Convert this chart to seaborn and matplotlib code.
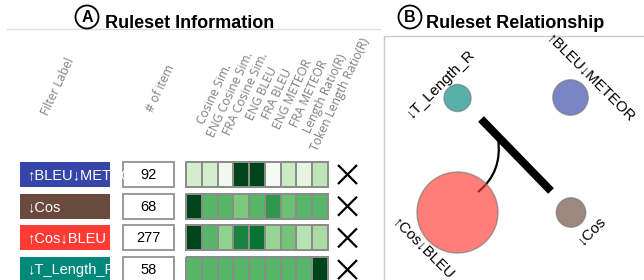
import matplotlib
matplotlib.use("Agg")
import matplotlib.pyplot as plt
from matplotlib.patches import Rectangle, Circle, PathPatch
from matplotlib.path import Path
import numpy as np
import pandas as pd
import seaborn as sns

# ---------------- data ----------------
filter_labels = ["↑BLEU↓METEOR", "↓Cos", "↑Cos↓BLEU", "↓T_Length_R"]
item_counts = [92, 68, 277, 58]
filter_colors = ["#3646A8", "#6B4A3E", "#FF3B33", "#00897B"]
metric_names = ["Cosine Sim.", "ENG Cosine Sim.", "FRA Cosine Sim.", "ENG BLEU",
                "FRA BLEU", "ENG METEOR", "FRA METEOR", "Length Ratio(R)",
                "Token Length Ratio(R)"]
metric_row1 = [0.20, 0.20, 0.05, 1.00, 1.00, 0.02, 0.24, 0.12, 0.28]
metric_row2 = [1.00, 0.57, 0.57, 0.48, 0.57, 0.70, 0.52, 0.57, 0.57]
metric_row3 = [1.00, 0.57, 0.42, 0.78, 0.85, 0.40, 0.50, 0.30, 0.35]
metric_row4 = [0.57, 0.57, 0.57, 0.57, 0.57, 0.57, 0.57, 0.57, 1.00]
metric_rows = [metric_row1, metric_row2, metric_row3, metric_row4]
header_labels = ["Filter Label", "# of item"]
panel_titles = ["Ruleset Information", "Ruleset Relationship"]

# relationship-graph layout (pixel positions of nodes)
node_x = [570.5, 571, 457.5, 457.5]
node_y = [97.5, 212.5, 212.5, 98]

# ---------------- style ----------------
sns.set_theme(style="white")
plt.rcParams["font.family"] = ["Liberation Sans", "DejaVu Sans"]

W, H = 644, 280
fig = plt.figure(figsize=(W / 100, H / 100), dpi=100)
ax = fig.add_axes([0, 0, 1, 1])
ax.set_xlim(0, W)
ax.set_ylim(H, 0)
ax.axis("off")

def px2fig(x0, y0, w, h):
    return [x0 / W, 1 - (y0 + h) / H, w / W, h / H]

# ---------------- titles ----------------
def circled_title(cx, letter, tx, text):
    ax.add_patch(Circle((cx, 17), 11.5, fill=False, lw=1.3, ec="black", zorder=5))
    ax.text(cx, 17.5, letter, ha="center", va="center", fontsize=11.5,
            fontweight="bold", color="black", zorder=6)
    ax.text(tx, 27.5, text, ha="left", va="baseline", fontsize=13,
            fontweight="bold", color="black", zorder=6)

circled_title(87, "A", 105, panel_titles[0])
circled_title(410, "B", 426, panel_titles[1])

ax.plot([7, 380], [29, 29], color="#dddddd", lw=1, zorder=1)
ax.plot([384, 384], [36, H + 5], color="#cccccc", lw=1, zorder=1)
ax.plot([384, W + 5], [36, 36], color="#cccccc", lw=1, zorder=1)

# ---------------- panel A headers ----------------
hdr_font = dict(family=["Open Sans", "DejaVu Sans"], color="#7f7f7f",
                fontsize=8.7, rotation=65, ha="center", va="center",
                rotation_mode="anchor")
ax.text(58, 87, header_labels[0], **hdr_font)
ax.text(161, 88, header_labels[1], **hdr_font)

hm_x0, hm_w = 186, 142
cell_w = hm_w / len(metric_names)
for i, name in enumerate(metric_names):
    ax.text(hm_x0 + (i + 0.5) * cell_w + 20.5, 94, name, **hdr_font)

# ---------------- panel A rows ----------------
row_top0, row_pitch, row_h = 162, 31.7, 25
for r, (lab, cnt, col, vals) in enumerate(zip(filter_labels, item_counts,
                                               filter_colors, metric_rows)):
    y0 = row_top0 + r * row_pitch
    yc = y0 + row_h / 2
    # filter label box (label clipped to the box, as in the original UI)
    box = Rectangle((20, y0), 90, row_h, facecolor=col, edgecolor="none", zorder=2)
    ax.add_patch(box)
    t = ax.text(27, yc + 0.5, lab, ha="left", va="center", color="white",
                fontsize=10.5, zorder=3)
    t.set_clip_path(box)
    # count box
    ax.add_patch(Rectangle((123, y0), 51, row_h, facecolor="white",
                           edgecolor="#999999", lw=1.4, zorder=2))
    ax.text(148.5, yc + 0.5, str(cnt), ha="center", va="center", color="black",
            fontsize=10.5, zorder=3)
    # heatmap row
    hax = fig.add_axes(px2fig(hm_x0, y0, hm_w, row_h))
    df = pd.DataFrame([vals], columns=metric_names)
    sns.heatmap(df, ax=hax, cmap="Greens", vmin=0, vmax=1, cbar=False,
                linewidths=1.1, linecolor="#8c8c8c", xticklabels=False,
                yticklabels=False, square=False)
    for coll in hax.collections:
        coll.set_clip_on(False)
    hax.add_patch(Rectangle((0, 0), len(metric_names), 1, fill=False,
                            ec="#8c8c8c", lw=1.3, clip_on=False, zorder=5))
    hax.axis("off")
    # delete mark
    xc, hs = 347.5, 9.5
    ax.plot([xc - hs, xc + hs], [yc - hs, yc + hs], color="black", lw=1.6,
            solid_capstyle="butt", zorder=3)
    ax.plot([xc - hs, xc + hs], [yc + hs, yc - hs], color="black", lw=1.6,
            solid_capstyle="butt", zorder=3)

# ---------------- panel B graph ----------------
r_min, r_max = 13.5, 40.5
c_min, c_max = min(item_counts), max(item_counts)
def radius(c):
    return r_min + (c - c_min) * (r_max - r_min) / (c_max - c_min)

nodes = pd.DataFrame({"name": filter_labels, "count": item_counts,
                      "x": node_x, "y": node_y})
size_map = {c: (2 * radius(c) * 0.72) ** 2 for c in item_counts}
pal = dict(zip(filter_labels, filter_colors))

# edges under nodes
ax.plot([481, 551], [119, 191], color="black", lw=5.8, solid_capstyle="butt",
        zorder=2)
curve = Path([(498, 138), (503, 172), (478, 192)],
             [Path.MOVETO, Path.CURVE3, Path.CURVE3])
ax.add_patch(PathPatch(curve, fill=False, ec="black", lw=1.6, zorder=2))

sns.scatterplot(data=nodes, x="x", y="y", hue="name", palette=pal,
                size="count", sizes=size_map, legend=False, ax=ax,
                alpha=0.66, edgecolor="#777777", linewidth=1.0, zorder=3)
ax.set_xlim(0, W)
ax.set_ylim(H, 0)
ax.axis("off")

lbl_font = dict(fontsize=10.8, color="black", ha="center", va="center",
                rotation_mode="anchor", zorder=6)
ax.text(440, 84, filter_labels[3], rotation=45, **lbl_font)
ax.text(590, 77, filter_labels[0], rotation=-45, **lbl_font)
ax.text(423, 248, filter_labels[2], rotation=-45, **lbl_font)
ax.text(591, 230, filter_labels[1], rotation=45, **lbl_font)

fig.savefig("out.png", dpi=100)
